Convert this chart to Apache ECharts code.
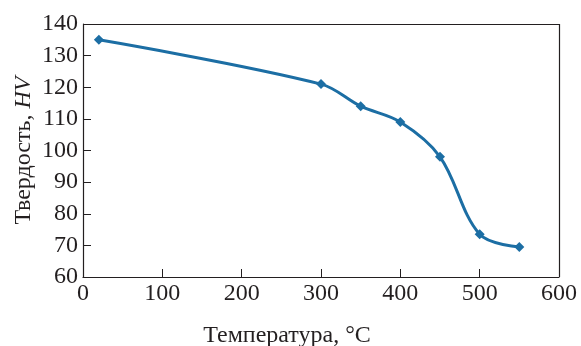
<!DOCTYPE html>
<html>
<head>
<meta charset="utf-8">
<script src="https://cdn.jsdelivr.net/npm/echarts@6/dist/echarts.min.js"></script>
<style>
  html, body { margin: 0; padding: 0; background: #fff; }
  #chart { width: 581px; height: 346px; }
</style>
</head>
<body>
<div id="chart"></div>
<script>
const temperatures = [20, 300, 350, 400, 450, 500, 550]
const hardness = [135, 121, 114, 109, 98, 73.5, 69.5]
const xTicks = [0, 100, 200, 300, 400, 500, 600]
const yTicks = [60, 70, 80, 90, 100, 110, 120, 130, 140]

const FONT = '"Liberation Serif", "DejaVu Serif", serif'
const INK = '#231f20'
const BLUE = '#1c6ea4'

const chart = echarts.init(document.getElementById('chart'))

chart.setOption({
  animation: false,
  grid: { left: 83, right: 22, top: 24, bottom: 69, containLabel: false, outerBoundsMode: 'none' },
  xAxis: {
    type: 'value',
    min: xTicks[0],
    max: xTicks[xTicks.length - 1],
    interval: 100,
    name: 'Температура, °C',
    nameLocation: 'middle',
    nameGap: 47,
    nameMoveOverlap: false,
    // title sits left of the axis centre in the original
    nameTextStyle: { fontFamily: FONT, fontSize: 24, color: INK, padding: [0, 68, 0, 0] },
    axisLine: { show: true, lineStyle: { color: INK, width: 1.2 } },
    axisTick: { show: true, inside: true, length: 8, lineStyle: { color: INK } },
    axisLabel: { fontFamily: FONT, fontSize: 24, color: INK, margin: 5 },
    splitLine: { show: false },
  },
  yAxis: {
    type: 'value',
    min: yTicks[0],
    max: yTicks[yTicks.length - 1],
    interval: 10,
    name: '{n|Твердость, }{i|HV}',
    nameLocation: 'middle',
    nameGap: 47,
    nameMoveOverlap: false,
    nameRotate: 90,
    nameTextStyle: {
      rich: {
        n: { fontFamily: FONT, fontSize: 24, color: INK },
        i: { fontFamily: FONT, fontSize: 24, color: INK, fontStyle: 'italic' },
      },
    },
    axisLine: { show: true, lineStyle: { color: INK, width: 1.2 } },
    axisTick: { show: true, inside: true, length: 8, lineStyle: { color: INK } },
    axisLabel: { fontFamily: FONT, fontSize: 24, color: INK, margin: 5 },
    splitLine: { show: false },
  },
  series: [
    {
      type: 'line',
      data: temperatures.map((t, i) => [t, hardness[i]]),
      smooth: 0.35,
      symbol: 'diamond',
      symbolSize: 10,
      lineStyle: { color: BLUE, width: 3 },
      itemStyle: { color: BLUE },
    },
    {
      // box frame on top/right
      type: 'line',
      data: [],
      markLine: {
        silent: true,
        symbol: 'none',
        label: { show: false },
        lineStyle: { color: INK, width: 1.2, type: 'solid' },
        data: [
          [{ coord: [0, 140] }, { coord: [600, 140] }],
          [{ coord: [600, 60] }, { coord: [600, 140] }],
        ],
      },
    },
  ],
})
</script>
</body>
</html>
